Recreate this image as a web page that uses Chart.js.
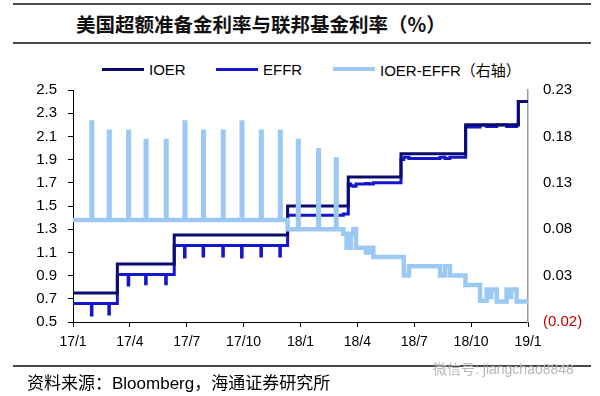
<!DOCTYPE html>
<html lang="zh-CN">
<head>
<meta charset="UTF-8">
<title>美国超额准备金利率与联邦基金利率</title>
<script src="https://cdn.jsdelivr.net/npm/chart.js"></script>
<style>
  body { margin: 0; width: 600px; height: 396px; background: #fff; position: relative; overflow: hidden;
         font-family: Arial, "Liberation Sans", "Noto Sans CJK SC", sans-serif; color: #000; }
  .rule { position: absolute; left: 13px; width: 578px; height: 2px; background: #4a4a4a; }
  #title { position: absolute; left: 76px; top: 10px; line-height: 28px; font-size: 19.5px; font-weight: bold;
           font-family: "Noto Sans CJK SC", sans-serif; color: #111; }
  #chartBox { position: absolute; left: 0; top: 50px; }
  #legend { position: absolute; left: 0; top: 58px; width: 600px; height: 22px; }
  .item { position: absolute; top: 0; height: 22px; display: flex; align-items: center; font-size: 15px; white-space: nowrap; }
  .item i { display: inline-block; width: 42px; margin-right: 5px; }
  #source { position: absolute; left: 27px; top: 370px; line-height: 24px; font-size: 17px; }
  #source .cn { font-family: "Noto Sans CJK SC", sans-serif; }
  #wm { position: absolute; left: 433px; top: 359px; line-height: 20px; font-size: 14px; color: #b8b8b8; }
</style>
</head>
<body>
<div class="rule" style="top:3px"></div>
<div id="title">美国超额准备金利率与联邦基金利率（%）</div>
<div class="rule" style="top:42px"></div>
<div id="legend"></div>
<div id="chartBox"><canvas id="c" width="600" height="312"></canvas></div>
<div class="rule" style="top:365px"></div>
<div id="wm">微信号: jiangchao8848</div>
<div id="source"><span class="cn">资料来源：</span>Bloomberg<span class="cn">，海通证券研究所</span></div>

<script>
    // x is months since 2017/1
    const xTicks = [0, 3, 6, 9, 12, 15, 18, 21, 24];
    const xLabels = ['17/1', '17/4', '17/7', '17/10', '18/1', '18/4', '18/7', '18/10', '19/1'];
    const leftTicks = [0.5, 0.7, 0.9, 1.1, 1.3, 1.5, 1.7, 1.9, 2.1, 2.3, 2.5];
    const rightTicks = [-0.02, 0.03, 0.08, 0.13, 0.18, 0.23];

    // IOER (step starts at each month value)
    const ioerMonth = [0, 2.34, 5.34, 11.32, 14.52, 17.30, 20.71, 23.49, 24];
    const ioerRate  = [0.75, 1.00, 1.25, 1.50, 1.75, 1.95, 2.20, 2.40, 2.40];

    // EFFR, month-end dips included
    const effrMonth = [0, 0.97, 1.00, 1.89, 1.92, 2.34, 2.91, 2.94, 3.83, 3.86, 4.89, 4.92,
        5.34, 5.88, 5.91, 6.86, 6.89, 7.90, 7.93, 8.89, 8.92, 9.91, 9.94, 10.91, 10.94,
        11.32, 11.86, 11.89, 12.93, 12.96, 13.86, 13.89, 14.26, 14.52, 14.65, 14.78, 14.93,
        15.45, 15.63, 15.84, 17.30, 17.45, 17.72, 19.36, 19.62, 19.88, 20.71, 21.47, 21.82,
        22.35, 22.87, 23.40, 23.49, 24];
    const effrRate = [0.66, 0.56, 0.66, 0.57, 0.66, 0.91, 0.82, 0.91, 0.83, 0.91, 0.83, 0.91,
        1.16, 1.06, 1.16, 1.07, 1.16, 1.07, 1.16, 1.06, 1.16, 1.07, 1.16, 1.07, 1.16,
        1.42, 1.33, 1.42, 1.34, 1.42, 1.35, 1.42, 1.43, 1.69, 1.675, 1.67, 1.69,
        1.695, 1.69, 1.70, 1.90, 1.92, 1.91, 1.92, 1.91, 1.92, 2.18, 2.197, 2.185,
        2.198, 2.185, 2.198, 2.40, 2.40];

    // IOER-EFFR (right axis)
    const spreadMonth = [0, 0.98, 1.01, 1.90, 1.93, 2.92, 2.95, 3.84, 3.87, 4.90, 4.93,
        5.89, 5.92, 6.87, 6.90, 7.91, 7.94, 8.90, 8.93, 9.92, 9.95, 10.92, 10.95,
        11.32, 11.87, 11.90, 12.94, 12.97, 13.87, 13.90, 14.26, 14.43, 14.65, 14.78, 14.93,
        15.45, 15.63, 15.84, 17.45, 17.72, 19.36, 19.62, 19.88, 20.70, 21.47, 21.82, 21.98,
        22.06, 22.35, 22.87, 23.03, 23.11, 23.40, 24];
    const spreadVal = [0.09, 0.195, 0.09, 0.185, 0.09, 0.185, 0.09, 0.175, 0.09, 0.175, 0.09,
        0.195, 0.09, 0.185, 0.09, 0.185, 0.09, 0.195, 0.09, 0.185, 0.09, 0.185, 0.09,
        0.08, 0.175, 0.08, 0.165, 0.08, 0.155, 0.08, 0.075, 0.06, 0.075, 0.08, 0.06,
        0.055, 0.06, 0.05, 0.03, 0.04, 0.03, 0.04, 0.03, 0.02, 0.003, 0.015, 0.007,
        0.015, 0.002, 0.015, 0.007, 0.015, 0.002, 0.002];

    const pts = (xs, ys) => xs.map((x, i) => ({ x: x, y: ys[i] }));
    const tickFont = { family: 'Arial, "Liberation Sans", sans-serif', size: 15 };

    const chart = new Chart(document.getElementById('c'), {
        type: 'line',
        data: {
            datasets: [
                { label: 'IOER', data: pts(ioerMonth, ioerRate), yAxisID: 'y',
                  borderColor: '#0c0c6e', borderWidth: 3, stepped: true, order: 1 },
                { label: 'EFFR', data: pts(effrMonth, effrRate), yAxisID: 'y',
                  borderColor: '#1515cc', borderWidth: 3, stepped: true, order: 2 },
                { label: 'IOER-EFFR（右轴）', data: pts(spreadMonth, spreadVal), yAxisID: 'y2',
                  borderColor: '#9cc9f4', borderWidth: 4.5, stepped: true, order: 0 }
            ]
        },
        options: {
            responsive: false,
            animation: false,
            devicePixelRatio: 1,
            elements: { point: { radius: 0 } },
            layout: { padding: { top: 40, left: 0, right: 0, bottom: 0 } },
            plugins: { legend: { display: false }, tooltip: { enabled: false } },
            scales: {
                x: {
                    type: 'linear', min: 0, max: 24,
                    afterBuildTicks: s => { s.ticks = xTicks.map(v => ({ value: v })); },
                    afterFit: s => { s.height = 40; },
                    ticks: { callback: (v, i) => xLabels[i], font: { ...tickFont, size: 14 }, color: '#000',
                             padding: 7, maxRotation: 0, autoSkip: false },
                    grid: { drawOnChartArea: false, drawTicks: true, tickLength: 5, color: '#000' },
                    border: { color: '#000', width: 1 }
                },
                y: {
                    position: 'left', min: 0.5, max: 2.5,
                    afterBuildTicks: s => { s.ticks = leftTicks.map(v => ({ value: v })); },
                    afterFit: s => { s.width = 73; },
                    ticks: { callback: v => v.toFixed(1), font: tickFont, color: '#000', padding: 11 },
                    grid: { drawOnChartArea: false, drawTicks: true, tickLength: 5, color: '#000' },
                    border: { color: '#000', width: 1 }
                },
                y2: {
                    position: 'right', min: -0.02, max: 0.23,
                    afterBuildTicks: s => { s.ticks = rightTicks.map(v => ({ value: v })); },
                    afterFit: s => { s.width = 72; },
                    ticks: {
                        callback: v => v < 0 ? '(' + Math.abs(v).toFixed(2) + ')' : v.toFixed(2),
                        color: ctx => ctx.tick.value < 0 ? '#c00000' : '#000',
                        font: tickFont, padding: 15
                    },
                    grid: { display: false, drawTicks: false },
                    border: { color: '#999', width: 1.5 }
                }
            }
        }
    });

    // legend from the datasets
    const legendX = [102, 216, 333];
    const legend = document.getElementById('legend');
    chart.data.datasets.forEach((ds, i) => {
        const item = document.createElement('div');
        item.className = 'item';
        item.style.left = legendX[i] + 'px';
        const sw = document.createElement('i');
        sw.style.height = ds.borderWidth + 'px';
        sw.style.background = ds.borderColor;
        item.appendChild(sw);
        item.appendChild(document.createTextNode(ds.label));
        legend.appendChild(item);
    });
</script>
</body>
</html>
